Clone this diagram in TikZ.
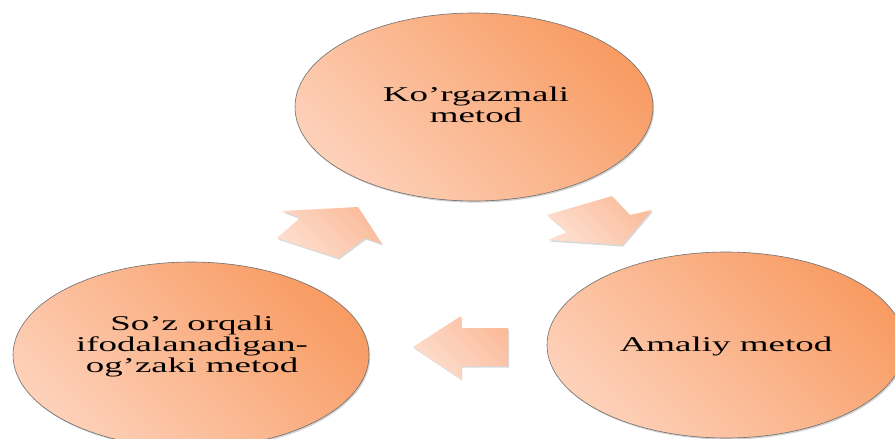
\documentclass[tikz,border=0pt]{standalone}
\usepackage{fontspec}
\setmainfont{Liberation Serif}
\usetikzlibrary{shapes.geometric,shadows}
\definecolor{ordark}{RGB}{248,156,100}
\definecolor{orlight}{RGB}{253,208,184}
\definecolor{ardark}{RGB}{251,188,155}
\definecolor{arlight}{RGB}{253,222,207}
\definecolor{rimgray}{RGB}{110,110,110}
\newcommand\stxt[1]{\scalebox{1.76}[1]{\fontsize{21}{21}\selectfont\begin{tabular}{@{}c@{}}#1\end{tabular}}}
\tikzset{
  bubble/.style={ellipse, inner sep=0pt, draw=rimgray, line width=0.6pt,
    top color=ordark, bottom color=orlight, shading angle=-45,
    drop shadow={opacity=0.35, shadow xshift=1.2pt, shadow yshift=-1.6pt},
    text=black},
  blockarrow/.style={top color=ardark, bottom color=arlight, shading angle=-45,
    drop shadow={opacity=0.3, shadow xshift=1.2pt, shadow yshift=-1.6pt}}
}
\begin{document}
\begin{tikzpicture}[x=1pt,y=-1pt]
\useasboundingbox (0,0) rectangle (895,439);
\clip (0,0) rectangle (895,439);
\fill[white] (0,0) rectangle (895,439);
% ellipses
\node[bubble, minimum width=358pt, minimum height=188pt] (top) at (474,107) {};
\node[bubble, minimum width=356pt, minimum height=186pt] (left) at (191,355) {};
\node[bubble, minimum width=358pt, minimum height=186pt] (right) at (726,345) {};
% texts
\node (ttop) at (476,108) {\stxt{Ko’rgazmali\\metod}};
\node (tleft) at (192,347) {\stxt{So’z orqali\\ifodalanadigan-\\og’zaki metod}};
\node (tright) at (726,347) {\stxt{Amaliy metod}};
% block arrows
\path[blockarrow] (282,211) -- (300,218) -- (277,238) -- (338,258) -- (365,238) -- (382,244) -- (358,207) -- cycle;
\path[blockarrow] (547,215) -- (612,196) -- (630,215) -- (652,210) -- (622,245) -- (548,240) -- (567,232) -- cycle;
\path[blockarrow] (413,347) -- (461,316) -- (461,328) -- (508,328) -- (508,366) -- (461,366) -- (461,379) -- cycle;
\end{tikzpicture}
\end{document}
